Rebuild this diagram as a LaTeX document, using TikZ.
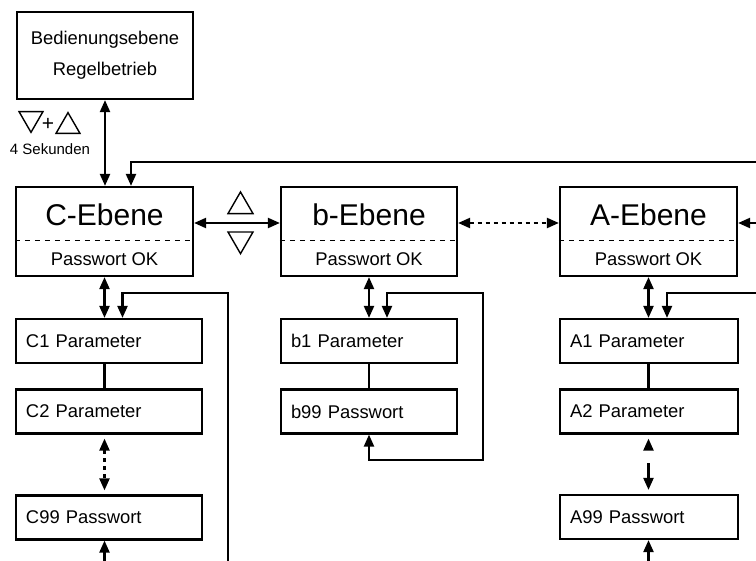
\documentclass[tikz,border=0pt]{standalone}
\usepackage{fontspec}
\setmainfont{Liberation Sans}
\usetikzlibrary{arrows.meta,shapes.geometric}

\newcommand{\gross}{\fontsize{30}{36}\selectfont}
\newcommand{\mittel}{\fontsize{18.4}{31}\selectfont}
\newcommand{\klein}{\fontsize{15}{18}\selectfont}

\tikzset{
  kasten/.style={draw,line width=2.2pt,inner sep=0pt},
  ebene/.style={kasten,minimum width=177pt,minimum height=89pt},
  param/.style={kasten,minimum height=44pt,text width=#1,inner xsep=10pt,align=left,font=\mittel},
  spitze/.tip={Triangle[length=12pt,width=10pt]},
  pfeil/.style={line width=2.2pt,-spitze},
  doppel/.style={line width=2.2pt,spitze-spitze},
  strich/.style={dash pattern=on 4pt off 4pt},
  trenn/.style={line width=0.8pt,dash pattern=on 5pt off 5pt},
  taste/.style={draw,regular polygon,regular polygon sides=3,line width=1.4pt,inner sep=0pt,minimum size=#1},
}

\begin{document}
\begin{tikzpicture}[x=1pt,y=-1pt]
    \useasboundingbox (0,0) rectangle (756,561);

    % Bedienungsebene
    \node[kasten,minimum width=176pt,minimum height=87pt,align=center,font=\mittel] (bed) at (105,55.5) {Bedienungsebene\\Regelbetrieb};
    \node[taste=27.7pt,shape border rotate=180] (runter) at (31,118.5) {};
    \node[font=\fontsize{21}{24}\selectfont] (plus) at (48,124) {+};
    \node[taste=27.7pt] (hoch) at (68,126.5) {};
    \node[font=\klein] (sek) at (50,149) {4 Sekunden};

    % Ebenen
    \node[ebene] (C) at (104.5,231.5) {};
    \node[ebene,minimum width=176pt] (b) at (369,231.5) {};
    \node[ebene] (A) at (648.5,231.5) {};
    \foreach \e/\t in {C/C-Ebene,b/b-Ebene,A/A-Ebene}{
        \node[font=\gross] (\e titel) at ([yshift=16.5pt]\e.center) {\t};
        \node[font=\mittel] (\e pw) at ([yshift=-27.5pt]\e.center) {Passwort OK};
        \draw[trenn] ([yshift=-9pt]\e.west) -- ([yshift=-9pt]\e.east);
    }
    \node[taste=28.9pt] (tauf) at (240.5,206.4) {};
    \node[taste=28.9pt,shape border rotate=180] (tab) at (240.5,239.2) {};

    % Parameter
    \node[param=166pt] (C1)  at (109,341)   {C1 Parameter};
    \node[param=166pt] (C2)  at (109,411.5) {C2 Parameter};
    \node[param=166pt] (C99) at (109,517.5) {C99 Passwort};
    \node[param=156pt] (b1)  at (369,341)   {b1 Parameter};
    \node[param=156pt] (b99) at (369,411.5) {b99 Passwort};
    \node[param=158pt] (A1)  at (649,341)   {A1 Parameter};
    \node[param=158pt] (A2)  at (649,411.5) {A2 Parameter};
    \node[param=158pt] (A99) at (649,517)   {A99 Passwort};

    % freie Enden
    \coordinate (oben)    at (756,162);
    \coordinate (Arechts) at (756,223);
    \coordinate (Aschl)   at (756,293);
    \coordinate (Cecke)   at (228,293);
    \coordinate (Cfrei)   at (228,561);
    \coordinate (Cunten)  at (104.5,561);
    \coordinate (Aunten)  at (648.5,561);
    \coordinate (becke1)  at (483,293);
    \coordinate (becke2)  at (483,460);

    \path[doppel] (bed.south) edge (bed.south |- C.north)
                  ([yshift=8.5pt]C.east) edge ([yshift=8.5pt]b.west)
                  ([yshift=8.5pt]b.east) edge[strich] ([yshift=8.5pt]A.west)
                  (C.south) edge (C.south |- C1.north)
                  (b.south) edge (b.south |- b1.north)
                  (A.south) edge (A.south |- A1.north)
                  (C.south |- C2.south) edge[strich,shorten <=4pt,shorten >=4pt] (C.south |- C99.north)
                  (A.south |- A2.south) edge[dash pattern=on 0pt off 13pt on 10pt,shorten <=4pt,shorten >=4pt] (A.south |- A99.north)
                  ;
    \path[line width=2.2pt] (C.south |- C1.south) edge (C.south |- C2.north)
                            (b.south |- b1.south) edge (b.south |- b99.north)
                            (A.south |- A1.south) edge (A.south |- A2.north)
                            ;
    \draw[pfeil] (oben) -| ([xshift=26.5pt]C.north);
    \draw[pfeil] (Arechts) -- (Arechts -| A.east);
    \draw[pfeil] (Cfrei) -- (Cecke) -| ([xshift=18pt]C.south |- C1.north);
    \draw[pfeil] (Aschl) -| ([xshift=18.5pt]A.south |- A1.north);
    \draw[doppel] ([xshift=18pt]b.south |- b1.north) |- (becke1) -- (becke2) -| (b.south |- b99.south);
    \draw[pfeil] (Cunten) -- (Cunten |- C99.south);
    \draw[pfeil] (Aunten) -- (Aunten |- A99.south);
\end{tikzpicture}
\end{document}
